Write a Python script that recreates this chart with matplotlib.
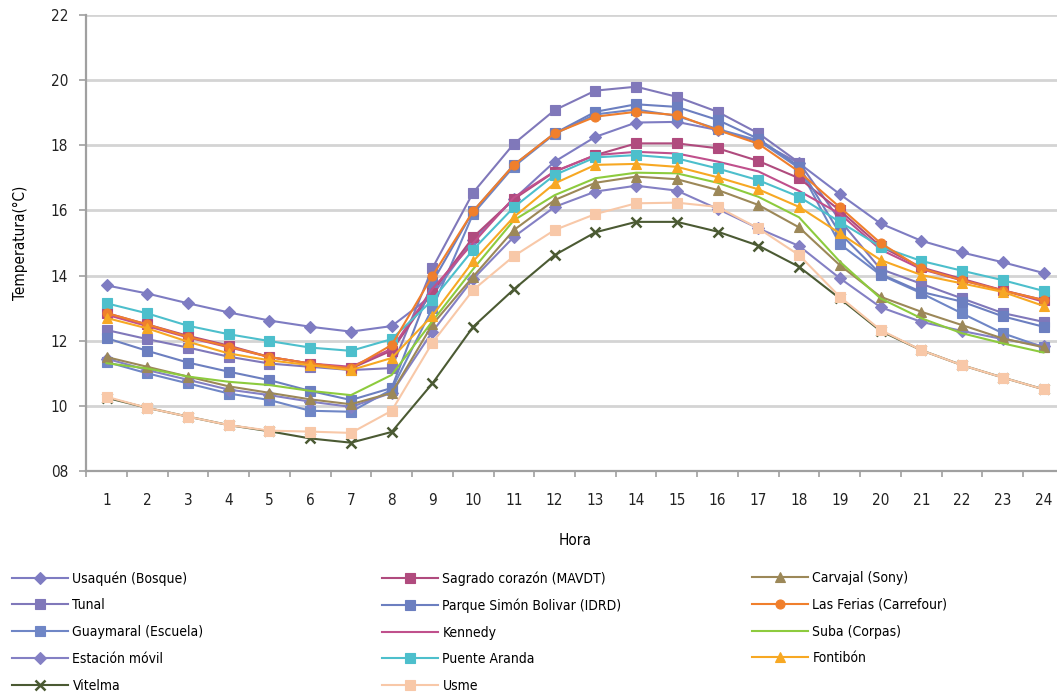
import matplotlib
matplotlib.use('Agg')
import matplotlib.pyplot as plt

hours = list(range(1, 25))

usaquen = [13.7, 13.45, 13.15, 12.87, 12.62, 12.43, 12.28, 12.45, 13.4, 15.1, 16.35, 17.5,
           18.26, 18.7, 18.72, 18.47, 18.12, 17.45, 16.5, 15.6, 15.07, 14.71, 14.41, 14.08]
tunal = [12.33, 12.05, 11.79, 11.51, 11.3, 11.2, 11.1, 11.16, 14.23, 16.55, 18.05, 19.08,
         19.68, 19.8, 19.49, 19.03, 18.37, 17.47, 15.7, 14.2, 13.75, 13.3, 12.85, 12.58]
guaymaral = [11.35, 11.0, 10.69, 10.38, 10.18, 9.85, 9.82, 10.5, 13.0, 15.9, 17.35, 18.35,
             18.95, 19.1, 18.9, 18.5, 18.15, 17.3, 14.97, 14.02, 13.46, 12.84, 12.23, 11.8]
estacion = [11.45, 11.1, 10.8, 10.5, 10.33, 10.13, 9.97, 10.4, 12.28, 13.9, 15.19, 16.11,
            16.58, 16.76, 16.61, 16.05, 15.45, 14.91, 13.92, 13.03, 12.58, 12.3, 12.05, 11.84]
vitelma = [10.25, 9.94, 9.67, 9.41, 9.22, 9.0, 8.87, 9.2, 10.69, 12.43, 13.58, 14.63,
           15.33, 15.65, 15.65, 15.35, 14.92, 14.27, 13.3, 12.3, 11.71, 11.25, 10.87, 10.51]
sagrado = [12.85, 12.5, 12.15, 11.85, 11.5, 11.3, 11.15, 11.7, 13.5, 15.18, 16.35, 17.19,
           17.7, 18.06, 18.06, 17.91, 17.52, 16.99, 16.0, 14.9, 14.25, 13.9, 13.55, 13.25]
parque = [12.08, 11.69, 11.33, 11.05, 10.79, 10.46, 10.18, 10.55, 13.8, 15.98, 17.4, 18.37,
          19.03, 19.26, 19.18, 18.78, 18.2, 17.35, 15.3, 14.05, 13.5, 13.2, 12.75, 12.43]
kennedy = [12.8, 12.45, 12.1, 11.8, 11.5, 11.3, 11.2, 11.75, 13.6, 15.0, 16.4, 17.2,
           17.7, 17.8, 17.75, 17.5, 17.2, 16.6, 15.9, 14.8, 14.2, 13.85, 13.55, 13.2]
puente = [13.15, 12.84, 12.46, 12.2, 11.99, 11.79, 11.69, 12.05, 13.25, 14.8, 16.1, 17.09,
          17.63, 17.7, 17.6, 17.29, 16.93, 16.42, 15.65, 14.89, 14.45, 14.15, 13.86, 13.53]
usme = [10.28, 9.94, 9.67, 9.41, 9.24, 9.21, 9.17, 9.85, 11.94, 13.56, 14.6, 15.4,
        15.89, 16.22, 16.24, 16.11, 15.45, 14.63, 13.35, 12.33, 11.71, 11.25, 10.87, 10.51]
carvajal = [11.5, 11.2, 10.9, 10.6, 10.4, 10.2, 10.05, 10.4, 12.5, 13.97, 15.4, 16.32,
            16.85, 17.04, 16.96, 16.63, 16.17, 15.48, 14.32, 13.35, 12.89, 12.48, 12.07, 11.8]
lasferias = [12.85, 12.5, 12.12, 11.82, 11.5, 11.3, 11.15, 11.87, 13.99, 15.98, 17.4, 18.37,
             18.88, 19.03, 18.93, 18.47, 18.05, 17.19, 16.1, 15.0, 14.22, 13.86, 13.54, 13.25]
suba = [11.31, 11.15, 10.9, 10.74, 10.64, 10.46, 10.33, 10.95, 12.6, 14.2, 15.7, 16.47,
        16.99, 17.16, 17.14, 16.85, 16.42, 15.79, 14.43, 13.3, 12.69, 12.23, 11.92, 11.64]
fontibon = [12.7, 12.38, 11.97, 11.61, 11.4, 11.25, 11.1, 11.47, 12.77, 14.44, 15.8, 16.83,
            17.4, 17.43, 17.34, 17.02, 16.65, 16.11, 15.3, 14.48, 14.02, 13.76, 13.5, 13.07]

# (label, data, color, marker) in legend order (column-wise)
series = [
    ('Usaquén (Bosque)', usaquen, '#7E7CC2', 'D'),
    ('Tunal', tunal, '#8078BA', 's'),
    ('Guaymaral (Escuela)', guaymaral, '#6F86C6', 's'),
    ('Estación móvil', estacion, '#8480C4', 'D'),
    ('Vitelma', vitelma, '#4B5A33', 'x'),
    ('Sagrado corazón (MAVDT)', sagrado, '#B04B7E', 's'),
    ('Parque Simón Bolivar (IDRD)', parque, '#6C7FC0', 's'),
    ('Kennedy', kennedy, '#C0508C', None),
    ('Puente Aranda', puente, '#4DBFCC', 's'),
    ('Usme', usme, '#F8C8A8', 's'),
    ('Carvajal (Sony)', carvajal, '#9C8858', '^'),
    ('Las Ferias (Carrefour)', lasferias, '#F07F2C', 'o'),
    ('Suba (Corpas)', suba, '#8DCB3E', None),
    ('Fontibón', fontibon, '#F7A823', '^'),
]

plt.rcParams['font.family'] = ['DejaVu Sans']
plt.rcParams['font.stretch'] = 'condensed'

fig = plt.figure(figsize=(10.57, 6.94), dpi=100)
ax = fig.add_axes([0.0815, 0.3213, 0.925, 0.657])

handles = []
for label, data, color, marker in series:
    ms = 7 if marker == 'x' else (6 if marker == 'D' else 6.5)
    h, = ax.plot(hours, data, color=color, marker=marker, markersize=ms, linewidth=1.5,
                 markeredgewidth=1.8 if marker == 'x' else 0.8, label=label)
    handles.append(h)

ax.set_xlim(0.5, 24.5)
ax.set_ylim(8, 22)
ax.set_yticks(range(8, 23, 2))
ax.set_yticklabels(['%02d' % v for v in range(8, 23, 2)], fontsize=11, color='#222222')
ax.set_xticks(hours)
ax.set_xticklabels([str(h) for h in hours], fontsize=11, color='#222222')
ax.set_xticks([h + 0.5 for h in range(0, 25)], minor=True)
ax.tick_params(axis='x', which='major', length=0, pad=16)
ax.tick_params(axis='x', which='minor', length=4, color='#A0A0A0', width=1.2)
ax.tick_params(axis='y', length=5, color='#A0A0A0', width=1.2, pad=8)

ax.grid(axis='y', color='#D4D4D4', linewidth=2)
ax.set_axisbelow(True)
for s in ('top', 'right'):
    ax.spines[s].set_visible(False)
for s in ('left', 'bottom'):
    ax.spines[s].set_color('#A0A0A0')
    ax.spines[s].set_linewidth(1.6)

ax.set_xlabel('Hora', fontsize=11, labelpad=18)
ax.set_ylabel('Temperatura(°C)', fontsize=11, labelpad=16)

# three legend columns placed at fixed positions
col_x = [12 / 1057, 382 / 1057, 752 / 1057]
for i, start in enumerate((0, 5, 10)):
    hs = handles[start:start + 5]
    fig.legend(handles=hs, labels=[h.get_label() for h in hs], loc='upper left',
               bbox_to_anchor=(col_x[i], 1 - 571 / 694), frameon=False, fontsize=10,
               handlelength=4.0, labelspacing=0.92, handletextpad=0.35,
               borderaxespad=0, borderpad=0)

fig.savefig('out.png', dpi=100)
